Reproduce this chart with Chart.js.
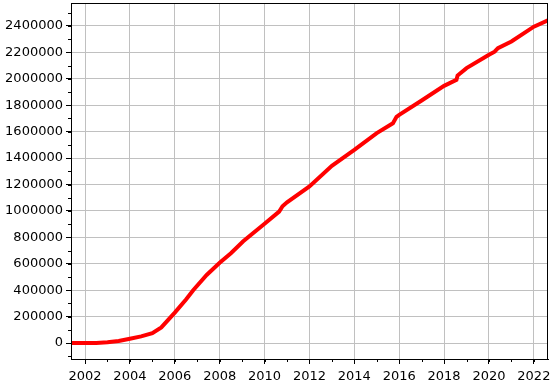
<!DOCTYPE html>
<html>
<head>
<meta charset="utf-8">
<script src="https://cdn.jsdelivr.net/npm/chart.js@4/dist/chart.umd.min.js"></script>
<style>
  html, body { margin: 0; padding: 0; background: #fff; }
  #wrap { width: 558px; height: 390px; }
</style>
</head>
<body>
<div id="wrap"><canvas id="chart" width="558" height="390"></canvas></div>
<script>
// values
const years = [2001.4, 2002, 2002.5, 2003, 2003.5, 2004, 2004.5, 2005, 2005.4, 2006, 2006.5,
  2006.82, 2007.42, 2008, 2008.5, 2009.05, 2010, 2010.65, 2010.8, 2011, 2012, 2013, 2014, 2015,
  2015.72, 2015.88, 2016, 2017, 2018, 2018.55, 2018.6, 2019, 2020, 2020.25, 2020.4, 2021, 2022, 2022.65];
const totals = [0, 0, 1000, 6000, 15000, 32000, 50000, 74000, 118000, 230000, 330000,
  400000, 515000, 607000, 680000, 770000, 903000, 995000, 1035000, 1065000, 1185000, 1341000, 1462000, 1589000,
  1664000, 1712000, 1727000, 1836000, 1947000, 1992000, 2025000, 2081000, 2182000, 2205000, 2232000, 2283000, 2395000, 2445000];

const xTicks = [2002, 2004, 2006, 2008, 2010, 2012, 2014, 2016, 2018, 2020, 2022];
const yTicks = [0, 200000, 400000, 600000, 800000, 1000000, 1200000, 1400000,
  1600000, 1800000, 2000000, 2200000, 2400000];
const yMinorStep = 100000;
const xMinorStep = 1;

const points = years.map((y, i) => ({ x: y, y: totals[i] }));

const frameAndMinor = {
  id: 'frameAndMinor',
  afterDraw(chart) {
    const { ctx, chartArea: a, scales } = chart;
    ctx.save();
    ctx.strokeStyle = '#000';
    ctx.lineWidth = 1;
    ctx.strokeRect(a.left + 0.5, a.top + 0.5, a.right - a.left - 1, a.bottom - a.top);
    ctx.beginPath();
    const ys = scales.y;
    for (let v = Math.ceil(ys.min / yMinorStep) * yMinorStep; v <= ys.max; v += yMinorStep) {
      const p = Math.round(ys.getPixelForValue(v)) + 0.5;
      ctx.moveTo(a.left - 3, p);
      ctx.lineTo(a.left, p);
    }
    const xs = scales.x;
    for (let v = Math.ceil(xs.min / xMinorStep) * xMinorStep; v <= xs.max; v += xMinorStep) {
      const p = Math.round(xs.getPixelForValue(v)) + 0.5;
      ctx.moveTo(p, a.bottom);
      ctx.lineTo(p, a.bottom + 3);
    }
    ctx.stroke();
    ctx.restore();
  }
};

const font = { family: 'DejaVu Sans', size: 13 };

new Chart(document.getElementById('chart').getContext('2d'), {
  type: 'line',
  data: {
    datasets: [{
      data: points,
      borderColor: 'rgb(255,0,0)',
      borderWidth: 4,
      pointRadius: 0,
      tension: 0,
      fill: false,
    }],
  },
  options: {
    responsive: false,
    animation: false,
    layout: { padding: { top: 3, right: 10, left: 0, bottom: 0 } },
    plugins: { legend: { display: false }, tooltip: { enabled: false } },
    scales: {
      x: {
        type: 'linear',
        min: 2001.375,
        max: 2022.63,
        afterFit(scale) {
          scale.height = 31;
          scale.paddingLeft = 0;
          scale.paddingRight = 0;
        },
        afterBuildTicks(scale) { scale.ticks = xTicks.map(v => ({ value: v })); },
        ticks: { color: '#000', font, padding: 5, maxRotation: 0, autoSkip: false, callback: v => String(v) },
        grid: { color: 'rgb(192,192,192)', lineWidth: 1, tickColor: '#000', tickLength: 5 },
        border: { color: '#000' },
      },
      y: {
        type: 'linear',
        min: -121000,
        max: 2574000,
        afterFit(scale) {
          scale.width = 71;
          scale.paddingTop = 0;
          scale.paddingBottom = 0;
        },
        afterBuildTicks(scale) { scale.ticks = yTicks.map(v => ({ value: v })); },
        ticks: { color: '#000', font, padding: 3, autoSkip: false, callback: v => String(v) },
        grid: { color: 'rgb(192,192,192)', lineWidth: 1, tickColor: '#000', tickLength: 5 },
        border: { color: '#000' },
      },
    },
  },
  plugins: [frameAndMinor],
});
</script>
</body>
</html>
